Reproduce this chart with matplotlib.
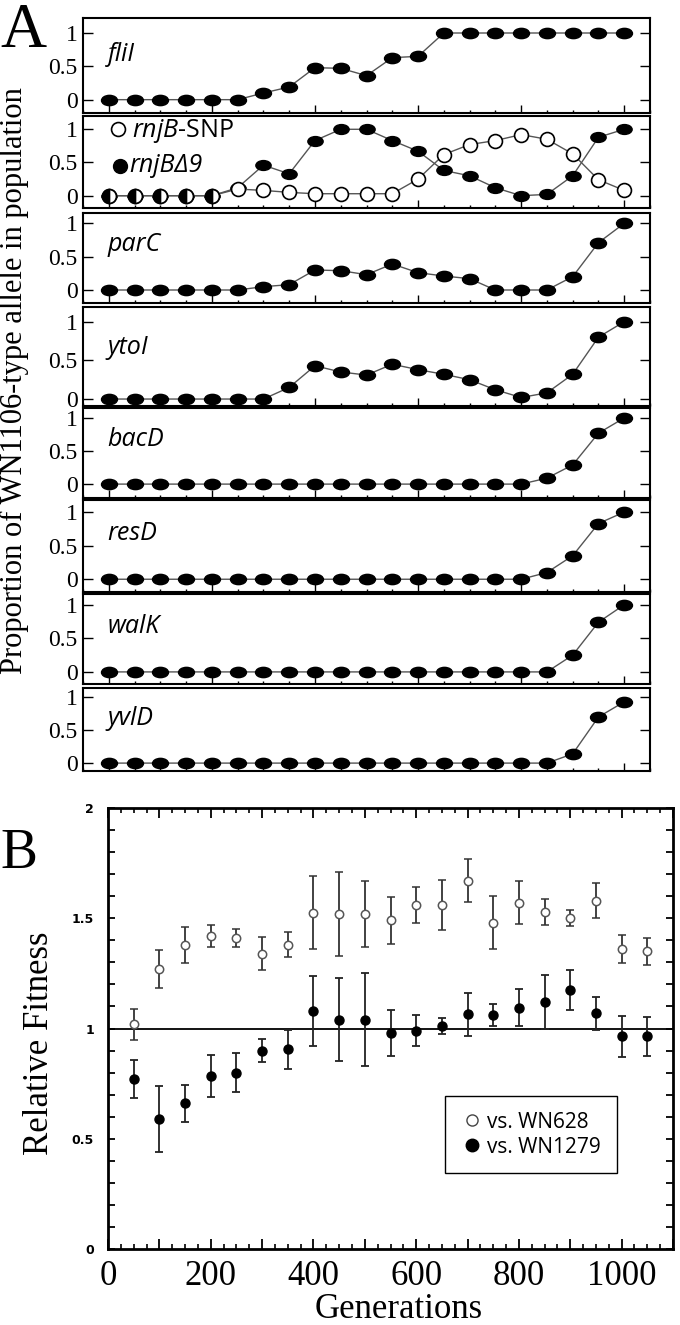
import matplotlib
matplotlib.use('Agg')
import matplotlib.pyplot as plt
from matplotlib.path import Path
from matplotlib.transforms import Affine2D
from matplotlib.lines import Line2D
from matplotlib.ticker import MultipleLocator, FuncFormatter

plt.rcParams['mathtext.fontset'] = 'custom'
plt.rcParams['mathtext.it'] = 'Open Sans:italic'
plt.rcParams['mathtext.rm'] = 'Open Sans'

# ---- panel A data: allele proportion vs generation ----
gens_a = [0, 50, 100, 150, 200, 250, 300, 350, 400, 450, 500,
          550, 600, 650, 700, 750, 800, 850, 900, 950, 1000]
genes = ['fliI', 'rnjB', 'parC', 'ytoI', 'bacD', 'resD', 'walK', 'yvlD']

fliI = [0, 0, 0, 0, 0, 0, 0.10, 0.19, 0.48, 0.47, 0.36,
        0.63, 0.65, 1, 1, 1, 1, 1, 1, 1, 1]
rnjB_snp = [0, 0, 0, 0, 0, 0.10, 0.08, 0.05, 0.03, 0.03, 0.03,
            0.03, 0.25, 0.62, 0.77, 0.83, 0.92, 0.85, 0.63, 0.24, 0.08]
rnjB_d9 = [0, 0, 0, 0, 0, 0.12, 0.46, 0.33, 0.83, 1.0, 1.0,
           0.83, 0.67, 0.38, 0.30, 0.12, 0, 0.02, 0.30, 0.88, 1.0]
parC = [0, 0, 0, 0, 0, 0, 0.05, 0.08, 0.30, 0.29, 0.23,
        0.39, 0.26, 0.21, 0.17, 0, 0, 0, 0.20, 0.71, 1.0]
ytoI = [0, 0, 0, 0, 0, 0, 0, 0.15, 0.43, 0.35, 0.31,
        0.45, 0.38, 0.32, 0.25, 0.12, 0.02, 0.08, 0.32, 0.80, 1.0]
bacD = [0, 0, 0, 0, 0, 0, 0, 0, 0, 0, 0,
        0, 0, 0, 0, 0, 0, 0.09, 0.29, 0.77, 1.0]
resD = [0, 0, 0, 0, 0, 0, 0, 0, 0, 0, 0,
        0, 0, 0, 0, 0, 0, 0.10, 0.35, 0.83, 1.0]
walK = [0, 0, 0, 0, 0, 0, 0, 0, 0, 0, 0,
        0, 0, 0, 0, 0, 0, 0, 0.25, 0.74, 1.0]
yvlD = [0, 0, 0, 0, 0, 0, 0, 0, 0, 0, 0,
        0, 0, 0, 0, 0, 0, 0, 0.14, 0.70, 0.93]

# ---- panel B data: relative fitness ----
gens_b = [50, 100, 150, 200, 250, 300, 350, 400, 450, 500, 550,
          600, 650, 700, 750, 800, 850, 900, 950, 1000, 1050]
fit_628 = [1.02, 1.27, 1.38, 1.42, 1.41, 1.34, 1.38, 1.525, 1.52, 1.52, 1.49,
           1.56, 1.56, 1.67, 1.48, 1.57, 1.53, 1.50, 1.58, 1.36, 1.35]
err_628 = [0.07, 0.087, 0.082, 0.05, 0.04, 0.076, 0.056, 0.165, 0.19, 0.15, 0.108,
           0.083, 0.114, 0.097, 0.12, 0.097, 0.059, 0.036, 0.078, 0.064, 0.06]
fit_1279 = [0.77, 0.59, 0.66, 0.785, 0.80, 0.90, 0.905, 1.08, 1.04, 1.04, 0.98,
            0.99, 1.01, 1.065, 1.06, 1.095, 1.12, 1.175, 1.07, 0.965, 0.965]
err_1279 = [0.085, 0.148, 0.085, 0.095, 0.09, 0.053, 0.09, 0.16, 0.187, 0.21, 0.103,
            0.07, 0.037, 0.098, 0.05, 0.085, 0.122, 0.09, 0.075, 0.093, 0.088]
legend_b = ['vs. WN628', 'vs. WN1279']

series = {'fliI': fliI, 'parC': parC, 'ytoI': ytoI, 'bacD': bacD,
          'resD': resD, 'walK': walK, 'yvlD': yvlD}

W, H = 680, 1325
fig = plt.figure(figsize=(W / 100, H / 100), dpi=100)


def px_axes(left, right, top, bottom):
    return fig.add_axes([left / W, 1 - bottom / H, (right - left) / W, (bottom - top) / H])


SERIF = 'Liberation Serif'
SANS = ['Open Sans', 'DejaVu Sans']
LINE_C = '#555555'

# ellipse shaped filled marker (the panel is stretched sideways)
ell = Path.unit_circle().transformed(Affine2D().scale(1.55, 1.0))

# pixel rows of the eight stacked panels and their y ranges
a_boxes = [(18, 113), (116, 208), (213, 303), (307, 406),
           (408, 498), (500, 592), (594, 684), (688, 771)]
a_ylims = [(-0.2, 1.225), (-0.185, 1.2), (-0.195, 1.155), (-0.09, 1.19),
           (-0.21, 1.15), (-0.19, 1.18), (-0.18, 1.16), (-0.12, 1.14)]

for i, name in enumerate(genes):
    top, bot = a_boxes[i]
    ax = px_axes(83, 650, top, bot)
    if name == 'rnjB':
        ax.plot(gens_a, rnjB_d9, '-', color=LINE_C, lw=1.0, marker=ell, ms=11,
                mfc='k', mec='k', zorder=3)
        ax.plot(gens_a, rnjB_snp, '-', color=LINE_C, lw=1.0, marker='o', ms=10,
                mfc='white', mec='k', mew=1.2, zorder=4)
        same = [k for k in range(len(gens_a)) if rnjB_snp[k] == rnjB_d9[k]]
        ax.plot([gens_a[k] for k in same], [rnjB_snp[k] for k in same], ls='none',
                marker='o', ms=10, fillstyle='left', mfc='k', mfcalt='white',
                mec='k', mew=1.2, zorder=5)
        # in-panel legend
        ax.plot([17], [1.0], ls='none', marker='o', ms=10, mfc='white', mec='k',
                mew=1.2, clip_on=False, zorder=6)
        ax.plot([22], [0.45], ls='none', marker='o', ms=10, mfc='k', mec='k',
                clip_on=False, zorder=6)
        ax.text(45, 0.98, r'$\mathit{rnjB}$-SNP', fontsize=18, family=SANS,
                va='center', ha='left')
        ax.text(39, 0.46, 'rnjBΔ9', fontsize=18, family=SANS, style='italic',
                va='center', ha='left')
    else:
        ax.plot(gens_a, series[name], '-', color=LINE_C, lw=1.0, marker=ell, ms=11.5,
                mfc='k', mec='k', zorder=3)
        ax.text(-2, 0.58, name, fontsize=18, family=SANS, style='italic',
                va='baseline', ha='left')
    ax.set_xlim(-50, 1050)
    ax.set_ylim(*a_ylims[i])
    ax.set_yticks([0, 0.5, 1])
    ax.set_yticklabels(['0', '0.5', '1'], family=SERIF, fontsize=17)
    ax.xaxis.set_major_locator(MultipleLocator(200))
    ax.xaxis.set_minor_locator(MultipleLocator(50))
    ax.tick_params(axis='x', which='major', direction='in', length=5.5, width=1,
                   labelbottom=False, top=False)
    ax.tick_params(axis='x', which='minor', direction='in', length=2.5, width=1,
                   top=False)
    ax.tick_params(axis='y', direction='in', length=7, width=1, left=True,
                   right=True, pad=4)
    for sp in ax.spines.values():
        sp.set_linewidth(1.5)

fig.text(14 / W, 1 - 381 / H, 'Proportion of WN1106-type allele in population',
         rotation=90, ha='center', va='center', family=SERIF, fontsize=22)
fig.text(0, 1 - 47 / H, 'A', ha='left', va='baseline', family=SERIF, fontsize=46)

# ---- panel B ----
axb = px_axes(108, 673, 808, 1249)
axb.axhline(1, color='k', lw=1.3, zorder=1)
axb.errorbar(gens_b, fit_628, yerr=err_628, fmt='o', ms=6, mfc='white', mec='#555555',
             mew=1.1, ecolor='#333333', elinewidth=1.3, capsize=2.8, capthick=1.3, zorder=3)
axb.errorbar(gens_b, fit_1279, yerr=err_1279, fmt='o', ms=6.5, mfc='k', mec='k',
             ecolor='#222222', elinewidth=1.3, capsize=2.8, capthick=1.3, zorder=3)
axb.set_xlim(0, 1100)
axb.set_ylim(0, 2)
axb.xaxis.set_major_locator(MultipleLocator(100))
axb.xaxis.set_minor_locator(MultipleLocator(25))
axb.xaxis.set_major_formatter(FuncFormatter(lambda v, p: '%d' % v if int(round(v)) % 200 == 0 else ''))
axb.yaxis.set_major_locator(MultipleLocator(0.5))
axb.yaxis.set_minor_locator(MultipleLocator(0.1))
axb.yaxis.set_major_formatter(FuncFormatter(lambda v, p: '%g' % v))
axb.tick_params(axis='x', which='major', direction='in', length=7, width=1.3,
                top=True, pad=8, labelsize=25)
axb.tick_params(axis='x', which='minor', direction='in', length=3.5, width=1.2, top=True)
axb.tick_params(axis='y', which='both', direction='in', length=5, width=1.3,
                right=True, pad=10, labelsize=9)
for lab in axb.get_xticklabels():
    lab.set_family(SERIF)
for lab in axb.get_yticklabels():
    lab.set_family('DejaVu Sans')
    lab.set_fontweight('bold')
for sp in axb.spines.values():
    sp.set_linewidth(2)

handles = [Line2D([], [], ls='none', marker='o', ms=8, mfc='white', mec='#444444', mew=1.0),
           Line2D([], [], ls='none', marker='o', ms=9, mfc='k', mec='k')]
leg = axb.legend(handles, legend_b, loc='upper left', bbox_to_anchor=(0.596, 0.347),
                 frameon=True, fancybox=False, edgecolor='k', framealpha=1,
                 prop={'family': SANS, 'size': 15}, handletextpad=0.2,
                 handlelength=1.1, borderpad=0.75, labelspacing=0.2, borderaxespad=0)
leg.get_frame().set_linewidth(1.0)

fig.text(40 / W, 1 - 1043 / H, 'Relative Fitness', rotation=90, ha='center',
         va='center', family=SERIF, fontsize=25)
fig.text(399 / W, 1 - 1318 / H, 'Generations', ha='center', va='baseline',
         family=SERIF, fontsize=25)
fig.text(0, 1 - 868 / H, 'B', ha='left', va='baseline', family=SERIF, fontsize=40)

fig.savefig('out.png', dpi=100)
